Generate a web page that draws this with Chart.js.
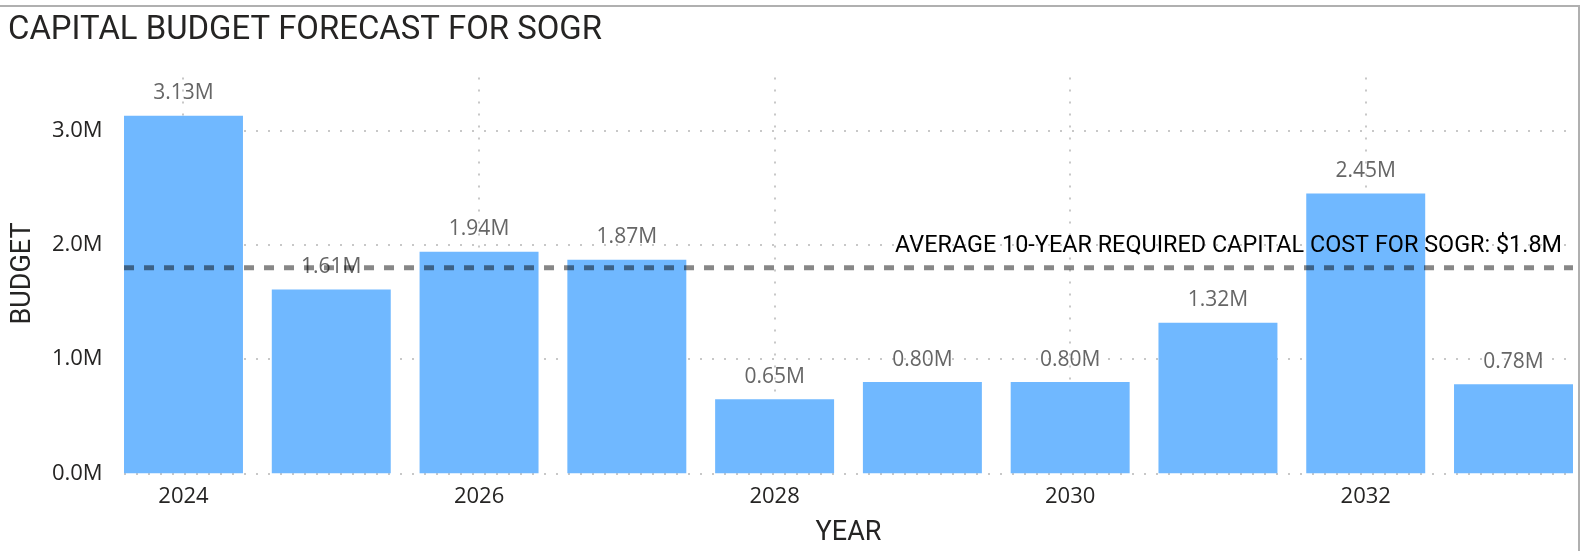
<!DOCTYPE html>
<html>
<head>
<meta charset="utf-8">
<title>Capital Budget Forecast for SOGR</title>
<script src="https://cdn.jsdelivr.net/npm/chart.js@4.4.1/dist/chart.umd.min.js"></script>
<style>
  html, body { margin: 0; padding: 0; background: #fff; overflow: hidden; }
  #wrap { position: relative; width: 1584px; height: 551px; overflow: hidden; }
  #frame {
    position: absolute; left: -4px; top: 5px; width: 1584px; height: 600px;
    box-sizing: border-box; border-top: 2px solid #b0b0b0; border-right: 2px solid #b0b0b0;
  }
  #chart { position: absolute; left: 0; top: 0; }
</style>
</head>
<body>
<div id="wrap">
  <div id="frame"></div>
  <canvas id="chart" width="1590" height="551"></canvas>
</div>
<script>
// budget per year, in millions
const years = ['2024', '2025', '2026', '2027', '2028', '2029', '2030', '2031', '2032', '2033'];
const budget = [3.13, 1.61, 1.94, 1.87, 0.65, 0.80, 0.80, 1.32, 2.45, 0.78];
const yTicks = [0, 1, 2, 3];
const averageCost = 1.8;
const averageLabel = 'AVERAGE 10-YEAR REQUIRED CAPITAL COST FOR SOGR: $1.8M';
const chartTitle = 'CAPITAL BUDGET FORECAST FOR SOGR';

const INK = '#252423';
const SANS = '"Open Sans", "Noto Sans", sans-serif';
const HEAD = 'Roboto, "Noto Sans", sans-serif';

// draws text squeezed/stretched to a given width
function drawFitted(ctx, text, x, y, width, align) {
  const w = ctx.measureText(text).width;
  const sx = width ? width / w : 1;
  ctx.save();
  ctx.translate(x, y);
  ctx.scale(sx, 1);
  ctx.textAlign = align || 'left';
  ctx.fillText(text, 0, 0);
  ctx.restore();
}

function barBounds(chart) {
  const bars = chart.getDatasetMeta(0).data;
  const first = bars[0];
  const last = bars[bars.length - 1];
  return { left: first.x - first.width / 2, right: last.x + last.width / 2 };
}

// dotted grid behind the bars
const dottedGrid = {
  id: 'dottedGrid',
  beforeDatasetsDraw(chart) {
    const { ctx, chartArea, scales } = chart;
    const { left, right } = barBounds(chart);
    ctx.save();
    ctx.strokeStyle = '#c8c8c8';
    ctx.lineWidth = 2;
    ctx.setLineDash([2, 10]);
    yTicks.forEach((v) => {
      const y = Math.round(scales.y.getPixelForValue(v));
      ctx.beginPath();
      ctx.moveTo(left, y);
      ctx.lineTo(right, y);
      ctx.stroke();
    });
    years.forEach((yr, i) => {
      if (i % 2) return;
      const x = Math.round(scales.x.getPixelForValue(i));
      ctx.beginPath();
      ctx.moveTo(x, chartArea.top + 4);
      ctx.lineTo(x, chartArea.bottom);
      ctx.stroke();
    });
    ctx.restore();
  },
};

// value labels, then the average line on top of them
const overlays = {
  id: 'overlays',
  afterDatasetsDraw(chart) {
    const { ctx, scales } = chart;
    const bars = chart.getDatasetMeta(0).data;
    ctx.save();
    ctx.fillStyle = '#666666';
    ctx.font = `21px ${SANS}`;
    ctx.textAlign = 'center';
    ctx.textBaseline = 'alphabetic';
    bars.forEach((bar, i) => {
      ctx.fillText(budget[i].toFixed(2) + 'M', bar.x, bar.y - 16.5);
    });

    const { left, right } = barBounds(chart);
    const y = scales.y.getPixelForValue(averageCost);
    ctx.strokeStyle = 'rgba(0,0,0,0.47)';
    ctx.lineWidth = 5;
    ctx.setLineDash([10, 10]);
    ctx.beginPath();
    ctx.moveTo(left, y);
    ctx.lineTo(right, y);
    ctx.stroke();

    ctx.fillStyle = '#000';
    ctx.font = `24.5px ${HEAD}`;
    drawFitted(ctx, averageLabel, 1562, y - 16, 667, 'right');
    ctx.restore();
  },
  afterDraw(chart) {
    const { ctx } = chart;
    ctx.save();
    ctx.fillStyle = INK;
    ctx.font = `34px ${HEAD}`;
    ctx.textBaseline = 'alphabetic';
    drawFitted(ctx, chartTitle, 8, 39, 594, 'left');
    ctx.restore();
  },
};

function init() {
  const ctx = document.getElementById('chart').getContext('2d');
  new Chart(ctx, {
    type: 'bar',
    data: {
      labels: years,
      datasets: [{
        label: 'Budget',
        data: budget,
        backgroundColor: '#70b8ff',
        categoryPercentage: 1,
        barPercentage: 0.805,
      }],
    },
    options: {
      responsive: false,
      animation: false,
      devicePixelRatio: 1,
      layout: { padding: { top: 73.5, right: 2.6, left: 0, bottom: 0 } },
      plugins: { legend: { display: false }, title: { display: false }, tooltip: { enabled: false } },
      scales: {
        x: {
          offset: true,
          grid: { display: false, drawTicks: false },
          border: { display: false },
          ticks: {
            autoSkip: false,
            maxRotation: 0,
            padding: 10,
            color: INK,
            font: { family: SANS, size: 22 },
            callback: (v, i) => (i % 2 === 0 ? years[i] : ''),
          },
          title: { display: true, text: 'YEAR', color: INK, font: { family: HEAD, size: 27 }, padding: { top: 0, bottom: 2 } },
          afterFit: (s) => { s.height = 77.5; },
        },
        y: {
          min: 0,
          max: 3.5,
          afterBuildTicks: (s) => { s.ticks = yTicks.map((v) => ({ value: v })); },
          grid: { display: false, drawTicks: false },
          border: { display: false },
          ticks: { padding: 7, color: INK, font: { family: SANS, size: 22 }, callback: (v) => v.toFixed(1) + 'M' },
          title: { display: true, text: 'BUDGET', color: INK, font: { family: HEAD, size: 27 }, padding: { top: 7, bottom: 0 } },
          afterFit: (s) => { s.width = 109.6; },
        },
      },
    },
    plugins: [dottedGrid, overlays],
  });
}

Promise.all([
  document.fonts.load(`22px ${SANS}`),
  document.fonts.load(`34px ${HEAD}`),
]).then(init, init);
</script>
</body>
</html>
